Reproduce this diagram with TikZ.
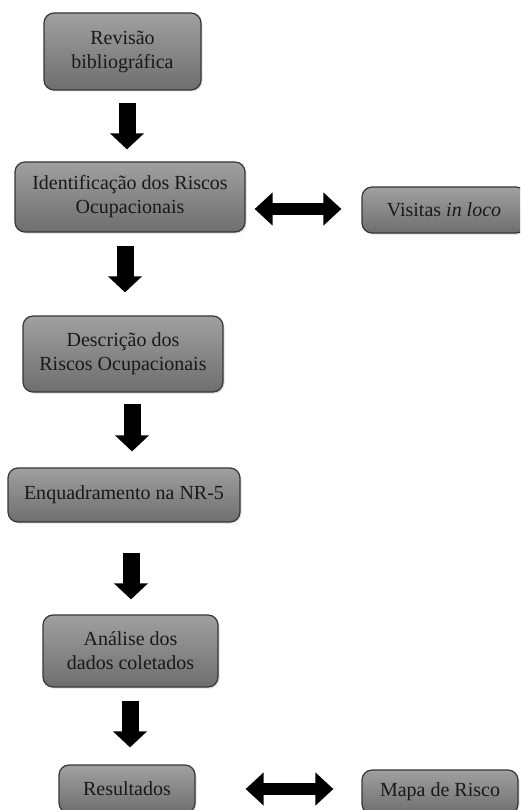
\documentclass[tikz,border=0pt]{standalone}
\usepackage{fontspec}
\setmainfont{Liberation Serif}
\usetikzlibrary{arrows.meta,calc,shadows}
\definecolor{boxtop}{RGB}{160,160,160}
\definecolor{boxbot}{RGB}{110,110,110}
\definecolor{boxline}{RGB}{55,55,55}
\definecolor{txt}{RGB}{25,25,25}
\begin{document}
\begin{tikzpicture}[x=1pt,y=-1pt,
  procbox/.style={draw=boxline,line width=1.2pt,rounded corners=10pt,
    top color=boxtop,bottom color=boxbot,inner sep=0pt,align=center,
    text=txt,font=\fontsize{20}{24}\selectfont,
    drop shadow={shadow xshift=1.5pt,shadow yshift=-1.5pt,opacity=0.25}},
  downarrow/.style={line width=17pt,-{Triangle[width=33pt,length=16pt]}},
  sidearrow/.style={line width=12pt,{Triangle[width=32pt,length=18pt]}-{Triangle[width=32pt,length=18pt]}}]
\useasboundingbox (0,0) rectangle (520,810);
\clip (0,0) rectangle (520,810);
\fill[white] (0,0) rectangle (520,810);
\node[procbox,minimum width=157pt,minimum height=77pt] (b1) at (122.5,51.5) {Revisão\\bibliográfica};
\node[procbox,minimum width=230pt,minimum height=70pt] (b2) at (130,197) {Identificação dos Riscos\\Ocupacionais};
\node[procbox,minimum width=164pt,minimum height=46pt] (v) at (444,210) {Visitas \textit{in loco}};
\node[procbox,minimum width=200pt,minimum height=76pt] (b3) at (123,354) {Descrição dos\\Riscos Ocupacionais};
\node[procbox,minimum width=232pt,minimum height=54pt] (b4) at (124,495) {Enquadramento na NR-5};
\node[procbox,minimum width=175pt,minimum height=72pt] (b5) at (130.5,651) {Análise dos\\dados coletados};
\node[procbox,minimum width=136pt,minimum height=48pt] (r) at (127,789) {Resultados};
\node[procbox,minimum width=156pt,minimum height=44pt] (m) at (440,792) {Mapa de Risco};
\draw[downarrow] ($(b1.south)+(4.5,12)$) -- ($(b2.north)+(-3,-12)$);
\draw[downarrow] ($(b2.south)+(-5,13)$) -- ($(b3.north)+(2,-23)$);
\draw[downarrow] ($(b3.south)+(9,11)$) -- ($(b4.north)+(8,-16)$);
\draw[downarrow] ($(b4.south)+(7,30)$) -- ($(b5.north)+(0.5,-15)$);
\draw[downarrow] ($(b5.south)+(-0.5,13)$) -- ($(r.north)+(3,-17)$);
\draw[sidearrow] ($(b2.east)+(9,12)$) -- ($(v.west)+(-20,-1)$);
\draw[sidearrow] ($(r.east)+(50,0)$) -- ($(m.west)+(-28,-3)$);
\end{tikzpicture}
\end{document}
